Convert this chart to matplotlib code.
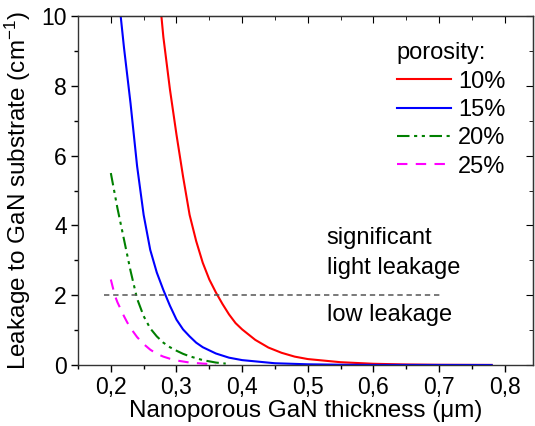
#!/usr/bin/env python3
"""Leakage into GaN substrate vs nanoporous GaN thickness for several porosities."""

import matplotlib

matplotlib.use("Agg")
import matplotlib.pyplot as plt
from matplotlib.lines import Line2D
from matplotlib.ticker import FuncFormatter, MultipleLocator

plt.rcParams["font.family"] = ["Liberation Sans", "DejaVu Sans"]
plt.rcParams["mathtext.default"] = "regular"

# porosity 10 %
X_10 = [0.277, 0.28, 0.29, 0.30, 0.31, 0.32, 0.33, 0.34, 0.35, 0.36, 0.37, 0.38,
        0.39, 0.40, 0.42, 0.44, 0.46, 0.48, 0.50, 0.55, 0.60, 0.65, 0.70, 0.78]
Y_10 = [10.0, 9.4, 7.9, 6.6, 5.4, 4.3, 3.55, 2.93, 2.45, 2.08, 1.75, 1.45,
        1.2, 1.02, 0.72, 0.5, 0.35, 0.24, 0.17, 0.08, 0.035, 0.015, 0.006, 0.002]
# porosity 15 %
X_15 = [0.215, 0.22, 0.23, 0.24, 0.25, 0.26, 0.27, 0.28, 0.29, 0.30, 0.31, 0.32,
        0.33, 0.34, 0.36, 0.38, 0.40, 0.45, 0.50, 0.55, 0.60, 0.78]
Y_15 = [10.0, 9.1, 7.5, 5.7, 4.3, 3.3, 2.65, 2.15, 1.7, 1.3, 1.02, 0.82,
        0.64, 0.51, 0.33, 0.21, 0.14, 0.05, 0.02, 0.008, 0.003, 0.0]
# porosity 20 %
X_20 = [0.20, 0.21, 0.22, 0.23, 0.24, 0.25, 0.26, 0.27, 0.28, 0.29, 0.30, 0.31,
        0.32, 0.34, 0.36, 0.375]
Y_20 = [5.5, 4.5, 3.6, 2.7, 1.9, 1.4, 1.05, 0.82, 0.64, 0.51, 0.41, 0.32,
        0.25, 0.14, 0.07, 0.04]
# porosity 25 %
X_25 = [0.20, 0.206, 0.21, 0.22, 0.225, 0.23, 0.24, 0.25, 0.26, 0.27, 0.28, 0.29,
        0.30, 0.32, 0.34, 0.36]
Y_25 = [2.45, 2.0, 1.8, 1.4, 1.22, 1.06, 0.8, 0.6, 0.44, 0.32, 0.24, 0.18,
        0.13, 0.07, 0.04, 0.02]

LABELS = ["10%", "15%", "20%", "25%"]
THRESHOLD = 2.0
THRESHOLD_X = [0.19, 0.705]

FS = 17
DASHDOTDOT = (0, (6, 2.2, 1.5, 2.2, 1.5, 2.2))
DASHED = (0, (5, 4))


def main() -> None:
    fig = plt.figure(figsize=(5.35, 4.26), dpi=100)
    ax = fig.add_axes([78 / 535, 61 / 426, 455 / 535, 349 / 426])

    styles = [("#ff0000", "-"), ("#0000ff", "-"), ("#008000", DASHDOTDOT),
              ("#ff00ff", DASHED)]
    for (xs, ys), (c, ls) in zip([(X_10, Y_10), (X_15, Y_15), (X_20, Y_20),
                                  (X_25, Y_25)], styles):
        ax.plot(xs, ys, color=c, lw=1.5, linestyle=ls)
    ax.plot(THRESHOLD_X, [THRESHOLD, THRESHOLD], color="#555555", lw=1.1,
            linestyle=(0, (3.5, 2.5)))

    ax.text(0.529, 3.64, "significant", fontsize=FS, va="center", ha="left")
    ax.text(0.529, 2.78, "light leakage", fontsize=FS, va="center", ha="left")
    ax.text(0.529, 1.43, "low leakage", fontsize=FS, va="center", ha="left")

    ax.set_xlim(0.15, 0.843)
    ax.set_ylim(0, 10)
    ax.xaxis.set_major_locator(MultipleLocator(0.1))
    ax.xaxis.set_minor_locator(MultipleLocator(0.05))
    ax.yaxis.set_major_locator(MultipleLocator(2))
    ax.yaxis.set_minor_locator(MultipleLocator(1))
    ax.xaxis.set_major_formatter(FuncFormatter(lambda v, p: f"{v:.1f}".replace(".", ",")))
    ax.yaxis.set_major_formatter(FuncFormatter(lambda v, p: f"{v:.0f}"))
    ax.tick_params(which="major", direction="out", length=5, width=1,
                   labelsize=16.5, pad=3)
    ax.tick_params(which="minor", direction="out", length=3, width=1)

    top = ax.secondary_xaxis("top")
    top.xaxis.set_major_locator(MultipleLocator(0.1))
    top.xaxis.set_minor_locator(MultipleLocator(0.05))
    top.tick_params(which="major", direction="in", length=5, labeltop=False)
    top.tick_params(which="minor", direction="in", length=3)
    right = ax.secondary_yaxis("right")
    right.yaxis.set_major_locator(MultipleLocator(2))
    right.yaxis.set_minor_locator(MultipleLocator(1))
    right.tick_params(which="major", direction="in", length=5, labelright=False)
    right.tick_params(which="minor", direction="in", length=3)

    for s in ax.spines.values():
        s.set_color("#333333")
        s.set_linewidth(1.0)

    ax.set_xlabel("Nanoporous GaN thickness (\u03bcm)", fontsize=17.5, labelpad=1)
    ax.set_ylabel("Leakage to GaN substrate (cm$^{-1}$)", fontsize=17.5, labelpad=6)

    handles = [Line2D([], [], color=c, lw=1.5, linestyle=ls) for c, ls in styles]
    ax.legend(handles, LABELS, title="porosity:", loc="upper right",
              bbox_to_anchor=(0.94, 0.925), frameon=False, fontsize=FS,
              title_fontsize=FS, handlelength=2.3, handletextpad=0.3,
              labelspacing=0.27, borderpad=0, borderaxespad=0, alignment="left")

    fig.savefig("out.png", dpi=100)
    plt.close(fig)


if __name__ == "__main__":
    main()
